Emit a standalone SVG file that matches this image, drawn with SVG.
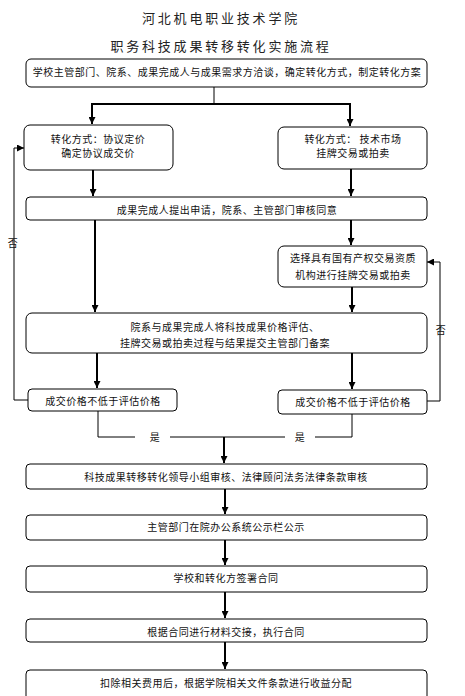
<svg xmlns="http://www.w3.org/2000/svg" width="465" height="696" viewBox="0 0 465 696">
<style>
.box{fill:#fff;stroke:#000;stroke-width:1}
.t{font-family:"Noto Sans CJK SC","Liberation Sans",sans-serif;font-size:10px;fill:#111;text-anchor:middle;letter-spacing:0.5px}
.title{font-family:"Noto Sans CJK SC","Liberation Sans",sans-serif;font-size:13px;fill:#222;text-anchor:middle;letter-spacing:2.8px}
.a{stroke:#000;stroke-width:2;fill:none}
.l{stroke:#000;stroke-width:1;fill:none}
</style>
<defs>
<marker id="ah" viewBox="0 0 8 8" refX="8" refY="4" markerWidth="7" markerHeight="7" markerUnits="userSpaceOnUse" orient="auto"><path d="M0,0 L8,4 L0,8 z" fill="#000"/></marker>
</defs>
<rect width="465" height="696" fill="#fff"/>
<g id="title">
<text class="title" x="221" y="23">河北机电职业技术学院</text>
<text class="title" x="221" y="51">职务科技成果转移转化实施流程</text>
</g>
<g id="connectors">
<path class="l" d="M214,87 V104"/>
<path class="a" d="M92,104 H350"/>
<path class="a" d="M92,103 V124" marker-end="url(#ah)"/>
<path class="a" d="M350,103 V126" marker-end="url(#ah)"/>
<path class="a" d="M93,170 V196" marker-end="url(#ah)"/>
<path class="a" d="M351,169 V196" marker-end="url(#ah)"/>
<path class="a" d="M95,220 V312" marker-end="url(#ah)"/>
<path class="a" d="M351,220 V245" marker-end="url(#ah)"/>
<path class="a" d="M352,287 V312" marker-end="url(#ah)"/>
<path class="a" d="M97,353 V388" marker-end="url(#ah)"/>
<path class="a" d="M352,353 V389" marker-end="url(#ah)"/>
<path class="l" d="M28,400 H14 V148 H24" marker-end="url(#ah)"/>
<path class="l" d="M427,401 H440 V262 H427" marker-end="url(#ah)"/>
<path class="l" d="M98,411 V437 H135 M170,437 H285 M315,437 H352 V414"/>
<path class="a" d="M224,437 V463" marker-end="url(#ah)"/>
<path class="a" d="M225,489 V514" marker-end="url(#ah)"/>
<path class="a" d="M225,540 V565" marker-end="url(#ah)"/>
<path class="a" d="M225,592 V618" marker-end="url(#ah)"/>
<path class="a" d="M225,642 V669" marker-end="url(#ah)"/>
<text class="t" x="13" y="247">否</text>
<text class="t" x="441" y="334">否</text>
<text class="t" x="155" y="441">是</text>
<text class="t" x="300" y="441">是</text>
</g>
<g id="n1"><rect class="box" x="26" y="59" width="401" height="28" rx="5"/><text class="t" x="227" y="76">学校主管部门、院系、成果完成人与成果需求方洽谈，确定转化方式，制定转化方案</text></g>
<g id="n2"><rect class="box" x="24" y="125" width="149" height="45" rx="6"/><text class="t" x="98" y="143">转化方式：协议定价</text><text class="t" x="98" y="157">确定协议成交价</text></g>
<g id="n3"><rect class="box" x="278" y="127" width="149" height="42" rx="6"/><text class="t" x="353" y="143">转化方式：  技术市场</text><text class="t" x="353" y="157">挂牌交易或拍卖</text></g>
<g id="n4"><rect class="box" x="26" y="197" width="401" height="23" rx="4"/><text class="t" x="227" y="214">成果完成人提出申请，院系、主管部门审核同意</text></g>
<g id="n5"><rect class="box" x="278" y="246" width="149" height="41" rx="6"/><text class="t" x="353" y="262">选择具有国有产权交易资质</text><text class="t" x="353" y="279">机构进行挂牌交易或拍卖</text></g>
<g id="n6"><rect class="box" x="26" y="313" width="401" height="40" rx="6"/><text class="t" x="225" y="331">院系与成果完成人将科技成果价格评估、</text><text class="t" x="225" y="347">挂牌交易或拍卖过程与结果提交主管部门备案</text></g>
<g id="n7"><rect class="box" x="28" y="389" width="149" height="22" rx="4"/><text class="t" x="103" y="405">成交价格不低于评估价格</text></g>
<g id="n8"><rect class="box" x="278" y="390" width="149" height="24" rx="4"/><text class="t" x="353" y="406">成交价格不低于评估价格</text></g>
<g id="n9"><rect class="box" x="26" y="464" width="401" height="25" rx="4"/><text class="t" x="226" y="481">科技成果转移转化领导小组审核、法律顾问法务法律条款审核</text></g>
<g id="n10"><rect class="box" x="26" y="515" width="401" height="25" rx="4"/><text class="t" x="226" y="531">主管部门在院办公系统公示栏公示</text></g>
<g id="n11"><rect class="box" x="26" y="566" width="401" height="26" rx="4"/><text class="t" x="226" y="582">学校和转化方签署合同</text></g>
<g id="n12"><rect class="box" x="26" y="619" width="401" height="23" rx="4"/><text class="t" x="226" y="636">根据合同进行材料交接，执行合同</text></g>
<g id="n13"><rect class="box" x="26" y="670" width="401" height="30" rx="4"/><text class="t" x="226" y="687">扣除相关费用后，根据学院相关文件条款进行收益分配</text></g>
</svg>
